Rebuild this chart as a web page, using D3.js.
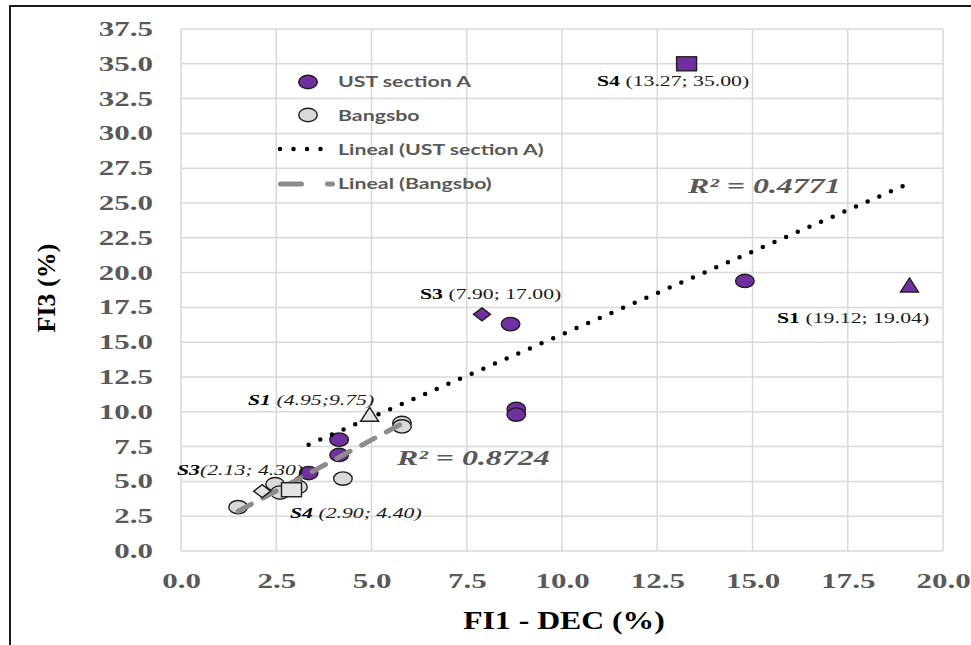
<!DOCTYPE html>
<html>
<head>
<meta charset="utf-8">
<script src="https://cdn.jsdelivr.net/npm/d3@7"></script>
<style>
  body { margin: 0; background: #fff; }
</style>
</head>
<body>
<script>
// values
const ustX = [14.8, 8.65, 8.8, 8.8, 4.15, 4.15, 3.35];
const ustY = [19.4, 16.3, 10.2, 9.8, 8.0, 6.9, 5.6];
const bangX = [1.5, 2.47, 2.6, 3.07, 4.25, 5.8, 5.8];
const bangY = [3.15, 4.8, 4.2, 4.6, 5.2, 9.2, 8.95];

// labelled samples (S1, S3, S4) of each series
const sampleNames = ["S1", "S3", "S4"];
const sampleShapes = ["triangle", "diamond", "square"];
const ustSampleX = [19.12, 7.90, 13.27];
const ustSampleY = [19.04, 17.00, 35.00];
const bangSampleX = [4.95, 2.13, 2.90];
const bangSampleY = [9.75, 4.30, 4.40];

const r2Labels = ["0.4771", "0.8724"];
const legendLabels = ["UST section A", "Bangsbo", "Lineal (UST section A)", "Lineal (Bangsbo)"];
const xTicks = [0, 2.5, 5, 7.5, 10, 12.5, 15, 17.5, 20];
const yTicks = [0, 2.5, 5, 7.5, 10, 12.5, 15, 17.5, 20, 22.5, 25, 27.5, 30, 32.5, 35, 37.5];

const width = 971, height = 645;
const purple = "#7030a0", grey = "#d9d9d9", ink = "#595959";
const SX = 1.45; // the source picture is stretched sideways

const svg = d3.select("body").append("svg")
  .attr("width", width)
  .attr("height", height);

// outer frame
svg.append("rect")
  .attr("x", 10).attr("y", 6)
  .attr("width", 1000).attr("height", 700)
  .attr("fill", "none").attr("stroke", "#1a1a1a").attr("stroke-width", 2);

const x = d3.scaleLinear().domain([0, 20]).range([181, 943]);
const y = d3.scaleLinear().domain([0, 37.5]).range([551, 29]);

// grid
svg.append("g").selectAll("line").data(yTicks).join("line")
  .attr("x1", x(0)).attr("x2", x(20))
  .attr("y1", d => y(d)).attr("y2", d => y(d))
  .attr("stroke", grey).attr("stroke-width", 1.5);
svg.append("g").selectAll("line").data(xTicks).join("line")
  .attr("y1", y(0)).attr("y2", y(37.5))
  .attr("x1", d => x(d)).attr("x2", d => x(d))
  .attr("stroke", grey).attr("stroke-width", 1.5);

// axes (labels only, stretched like the source)
const yAxis = d3.axisLeft(y).tickValues(yTicks).tickSize(0).tickFormat(d3.format(".1f"));
svg.append("g")
  .attr("transform", `translate(${x(0)},0)`)
  .call(yAxis)
  .call(g => g.select(".domain").remove())
  .call(g => g.selectAll("text")
    .attr("x", 0).attr("dy", "0.32em")
    .attr("transform", `translate(-28,0) scale(1.55,1)`)
    .attr("font-family", "Liberation Serif, serif")
    .attr("font-weight", "bold").attr("font-size", 20).attr("fill", ink));

const xAxis = d3.axisBottom(x).tickValues(xTicks).tickSize(0).tickFormat(d3.format(".1f"));
svg.append("g")
  .attr("transform", `translate(0,${y(0)})`)
  .call(xAxis)
  .call(g => g.select(".domain").remove())
  .call(g => g.selectAll("text")
    .attr("y", 0).attr("dy", 0)
    .attr("transform", `translate(0,37) scale(1.55,1)`)
    .attr("font-family", "Liberation Serif, serif")
    .attr("font-weight", "bold").attr("font-size", 20).attr("fill", ink));

// axis titles
svg.append("text")
  .attr("transform", `translate(564,629) scale(1.22,1)`)
  .attr("text-anchor", "middle")
  .attr("font-family", "Liberation Serif, serif").attr("font-weight", "bold")
  .attr("font-size", 26).attr("fill", "#000")
  .text("FI1 - DEC (%)");
svg.append("text")
  .attr("transform", "translate(55,288) rotate(-90)")
  .attr("text-anchor", "middle")
  .attr("font-family", "Liberation Serif, serif").attr("font-weight", "bold")
  .attr("font-size", 26).attr("fill", "#000")
  .text("FI3 (%)");

// marker drawing
function marker(g, shape, cx, cy, fill) {
  let el;
  if (shape === "circle") {
    el = g.append("ellipse").attr("cx", cx).attr("cy", cy).attr("rx", 9.3).attr("ry", 6.7);
  } else if (shape === "square") {
    el = g.append("rect").attr("x", cx - 10).attr("y", cy - 7).attr("width", 20).attr("height", 14);
  } else if (shape === "triangle") {
    el = g.append("path").attr("d", `M${cx},${cy - 8}L${cx + 9},${cy + 6}L${cx - 9},${cy + 6}Z`);
  } else {
    el = g.append("path").attr("d", `M${cx},${cy - 6.5}L${cx + 8.5},${cy}L${cx},${cy + 6.5}L${cx - 8.5},${cy}Z`);
  }
  el.attr("fill", fill).attr("stroke", "#1f1f1f").attr("stroke-width", 1.4);
}

const pts = svg.append("g");
ustX.forEach((v, i) => marker(pts, "circle", x(v), y(ustY[i]), purple));
bangX.forEach((v, i) => marker(pts, "circle", x(v), y(bangY[i]), grey));

// least-squares trend lines over each series (samples included)
function fit(xs, ys) {
  const mx = d3.mean(xs), my = d3.mean(ys);
  const b = d3.sum(xs, (v, i) => (v - mx) * (ys[i] - my)) / d3.sum(xs, v => (v - mx) ** 2);
  const a = my - b * mx;
  const [x0, x1] = d3.extent(xs);
  return [[x0, a + b * x0], [x1, a + b * x1]];
}
const line = d3.line().x(d => x(d[0])).y(d => y(d[1]));

svg.append("path")
  .attr("d", line(fit(bangX.concat(bangSampleX), bangY.concat(bangSampleY))))
  .attr("fill", "none").attr("stroke", "#8c8c8c").attr("stroke-width", 5)
  .attr("stroke-linecap", "round").attr("stroke-dasharray", "15 13");
svg.append("path")
  .attr("d", line(fit(ustX.concat(ustSampleX), ustY.concat(ustSampleY))))
  .attr("fill", "none").attr("stroke", "#000").attr("stroke-width", 4.5)
  .attr("stroke-linecap", "round").attr("stroke-dasharray", "0 12.7");

// labelled samples
const smp = svg.append("g");
ustSampleX.forEach((v, i) => marker(smp, sampleShapes[i], x(v), y(ustSampleY[i]), purple));
bangSampleX.forEach((v, i) => marker(smp, sampleShapes[i], x(v), y(bangSampleY[i]), "#e4e4e4"));

// sample annotations
const fmt = d3.format(".2f");
function note(px, py, name, xv, yv, italic, gap, sep) {
  const t = svg.append("text")
    .attr("transform", `translate(${px},${py}) scale(${SX},1)`)
    .attr("font-family", "Liberation Serif, serif").attr("font-size", 15)
    .attr("font-style", italic ? "italic" : "normal").attr("fill", "#1a1a1a");
  t.append("tspan").attr("font-weight", "bold").attr("fill", "#000").text(name);
  t.append("tspan").text(`${gap}(${fmt(xv)};${sep}${fmt(yv)})`);
}
note(597, 86, sampleNames[2], ustSampleX[2], ustSampleY[2], false, " ", " ");
note(420, 299, sampleNames[1], ustSampleX[1], ustSampleY[1], false, " ", " ");
note(777, 323, sampleNames[0], ustSampleX[0], ustSampleY[0], false, " ", " ");
note(248, 405, sampleNames[0], bangSampleX[0], bangSampleY[0], true, " ", "");
note(177, 475, sampleNames[1], bangSampleX[1], bangSampleY[1], true, "", " ");
note(290, 518, sampleNames[2], bangSampleX[2], bangSampleY[2], true, " ", " ");

// R² labels
[[688, 193], [397, 465]].forEach((p, i) => {
  svg.append("text")
    .attr("transform", `translate(${p[0]},${p[1]}) scale(${SX},1)`)
    .attr("font-family", "Liberation Serif, serif").attr("font-weight", "bold")
    .attr("font-style", "italic").attr("font-size", 22).attr("fill", ink)
    .text(`R² = ${r2Labels[i]}`);
});

// legend
const lg = svg.append("g");
marker(lg, "circle", 308, 82, purple);
marker(lg, "circle", 308, 115, grey);
lg.append("line").attr("x1", 280).attr("x2", 322).attr("y1", 149).attr("y2", 149)
  .attr("stroke", "#000").attr("stroke-width", 4.5)
  .attr("stroke-linecap", "round").attr("stroke-dasharray", "0 13.5");
lg.append("line").attr("x1", 280.5).attr("x2", 332.5).attr("y1", 184).attr("y2", 184)
  .attr("stroke", "#8c8c8c").attr("stroke-width", 5)
  .attr("stroke-linecap", "round").attr("stroke-dasharray", "21 26");
lg.selectAll("text").data(legendLabels).join("text")
  .attr("transform", (d, i) => `translate(338,${[87, 121, 155, 189][i]}) scale(1.42,1)`)
  .attr("font-family", "Lato, sans-serif").attr("font-weight", "bold")
  .attr("font-size", 15).attr("fill", ink)
  .text(d => d);
</script>
</body>
</html>
